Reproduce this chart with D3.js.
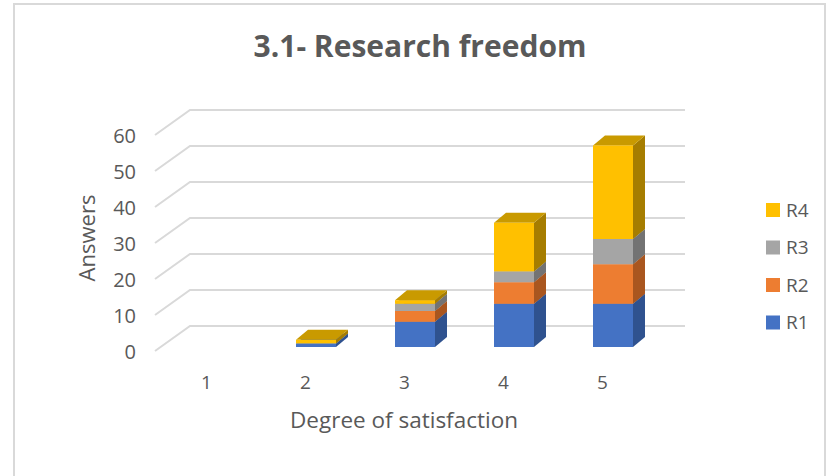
<!DOCTYPE html>
<html><head><meta charset="utf-8">
<script src="https://cdn.jsdelivr.net/npm/d3@7"></script>
<style>html,body{margin:0;padding:0;background:#fff}</style>
</head><body>
<svg id="c" width="829" height="476"></svg>
<script>
const categories = ["1","2","3","4","5"];
const seriesNames = ["R1","R2","R3","R4"];
const R1 = [0,1,7,12,12];
const R2 = [0,0,3,6,11];
const R3 = [0,0,2,3,7];
const R4 = [0,1,1,13.5,26];
const yTicks = [0,10,20,30,40,50,60];
const colors = {R1:"#4472C4",R2:"#ED7D31",R3:"#A5A5A5",R4:"#FFC000"};
const sideColors = {R1:"#2F528F",R2:"#A9561F",R3:"#737373",R4:"#A67D00"};
const topColors = {R1:"#3A62AA",R2:"#C96A29",R3:"#8C8C8C",R4:"#C99A00"};

const svg = d3.select("#c");
svg.append("rect").attr("x",14).attr("y",4).attr("width",811).attr("height",480)
  .attr("fill","#fff").attr("stroke","#d9d9d9").attr("stroke-width",2);

const y = d3.scaleLinear().domain([0,60]).range([326,110]);
const x = d3.scaleBand().domain(categories).range([190,685]);
const wallDX = -35, wallDY = 25;
const barDX = -22.5, barDY = 21;
const depthDX = 12, depthDY = -10;
const barW = 40;

const grid = svg.append("g");
yTicks.forEach(t => {
  grid.append("path")
    .attr("d", `M${x.range()[0]+wallDX},${y(t)+wallDY}L${x.range()[0]},${y(t)}L${x.range()[1]},${y(t)}`)
    .attr("fill","none").attr("stroke","#d9d9d9").attr("stroke-width",2);
  svg.append("text").attr("x",136).attr("y",y(t)+wallDY+1)
    .attr("dy","0.36em").attr("text-anchor","end")
    .attr("font-family","Open Sans").attr("font-size",20).attr("fill","#595959").text(t);
});

categories.forEach(c => {
  svg.append("text").attr("x",x(c)+x.bandwidth()/2+wallDX+2).attr("y",389)
    .attr("text-anchor","middle").attr("font-family","Open Sans").attr("font-size",19)
    .attr("fill","#595959").text(c);
});

const data = {R1,R2,R3,R4};
const bars = svg.append("g");
categories.forEach((c,i) => {
  let acc = 0;
  const x0 = x(c)+x.bandwidth()/2+barDX-barW/2;
  seriesNames.forEach(s => {
    const v = data[s][i];
    if (v <= 0) { return; }
    const yb = y(acc)+barDY, yt = y(acc+v)+barDY;
    acc += v;
    const x1 = x0+barW;
    bars.append("path").attr("d",`M${x1},${yt}L${x1+depthDX},${yt+depthDY}L${x1+depthDX},${yb+depthDY}L${x1},${yb}Z`).attr("fill",sideColors[s]);
    bars.append("path").attr("d",`M${x0},${yt}L${x0+depthDX},${yt+depthDY}L${x1+depthDX},${yt+depthDY}L${x1},${yt}Z`).attr("fill",topColors[s]);
    bars.append("rect").attr("x",x0).attr("y",yt).attr("width",barW).attr("height",yb-yt).attr("fill",colors[s]);
  });
});

svg.append("text").attr("x",420).attr("y",57).attr("text-anchor","middle")
  .attr("font-family","Open Sans").attr("font-weight","bold").attr("font-size",30)
  .attr("fill","#595959").text("3.1- Research freedom");
svg.append("text").attr("x",404).attr("y",428).attr("text-anchor","middle")
  .attr("font-family","Open Sans").attr("font-size",22.5).attr("fill","#595959").text("Degree of satisfaction");
svg.append("text").attr("transform","translate(95,238) rotate(-90)").attr("text-anchor","middle")
  .attr("font-family","Open Sans").attr("font-size",22).attr("fill","#595959").text("Answers");

const legendOrder = ["R4","R3","R2","R1"];
legendOrder.forEach((s,k) => {
  const ly = 203 + k*37.5;
  svg.append("rect").attr("x",766).attr("y",ly).attr("width",14).attr("height",14).attr("fill",colors[s]);
  svg.append("text").attr("x",786).attr("y",ly+7).attr("dy","0.36em")
    .attr("font-family","Open Sans").attr("font-size",19).attr("fill","#595959").text(s);
});
</script>
</body></html>
